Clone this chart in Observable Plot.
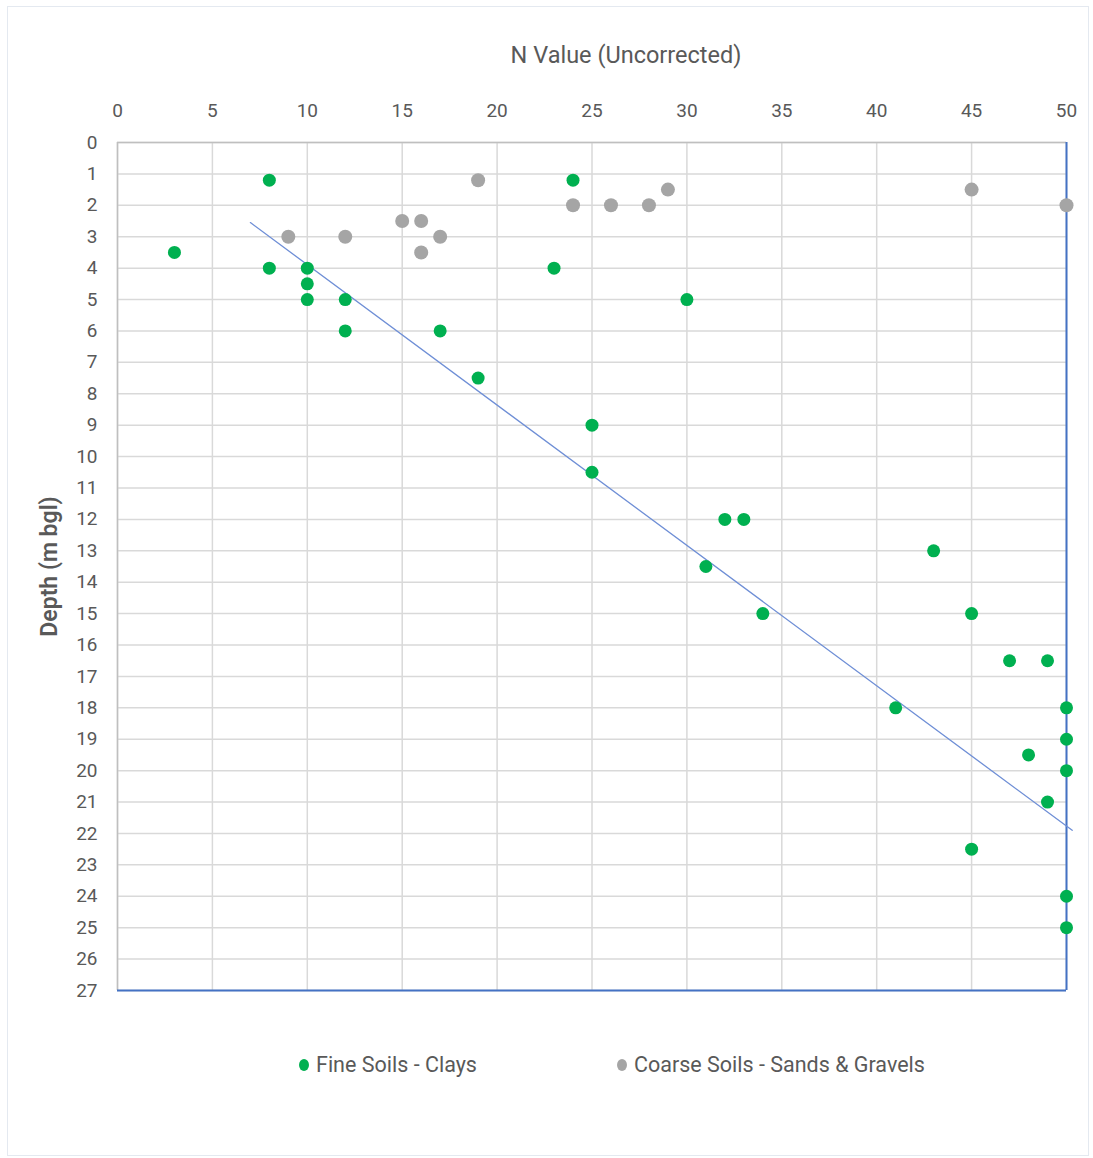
<!DOCTYPE html>
<html>
<head>
<meta charset="utf-8">
<script src="https://cdn.jsdelivr.net/npm/d3@7"></script>
<script src="https://cdn.jsdelivr.net/npm/@observablehq/plot@0.6"></script>
<style>
  html, body { margin: 0; padding: 0; background: #fff; }
  #wrap { position: relative; width: 1093px; height: 1158px; font-family: Roboto, "Noto Sans", sans-serif; }
  #frame { position: absolute; left: 7px; top: 6px; width: 1082px; height: 1150px; border: 1px solid #e4e9f0; box-sizing: border-box; }
  #chart { position: absolute; left: 0; top: 0; }
  #legend { position: absolute; top: 1052px; left: 0; width: 1093px; height: 26px; font-size: 21.5px; color: #595959; }
  .item { position: absolute; display: flex; align-items: center; gap: 7px; }
  .sw { width: 10px; height: 12px; border-radius: 50%; display: inline-block; }
</style>
</head>
<body>
<div id="wrap">
  <div id="frame"></div>
  <div id="chart"></div>
  <div id="legend"></div>
</div>
<script>
// SPT N values (uncorrected) against depth below ground level
const fineN     = [8, 24, 3, 8, 10, 10, 10, 12, 12, 17, 19, 23, 30, 25, 25, 32, 33, 43, 31, 34, 45, 47, 49, 41, 50, 50, 48, 50, 49, 45, 50, 50];
const fineDepth = [1.2, 1.2, 3.5, 4, 4, 4.5, 5, 5, 6, 6, 7.5, 4, 5, 9, 10.5, 12, 12, 13, 13.5, 15, 15, 16.5, 16.5, 18, 18, 19, 19.5, 20, 21, 22.5, 24, 25];

const coarseN     = [19, 29, 45, 24, 26, 28, 50, 15, 16, 9, 12, 17, 16];
const coarseDepth = [1.2, 1.5, 1.5, 2, 2, 2, 2, 2.5, 2.5, 3, 3, 3, 3.5];

// Linear trendline through the fine soils (end points)
const trendN     = [7, 50.3];
const trendDepth = [2.55, 21.9];

const xTicks = [0, 5, 10, 15, 20, 25, 30, 35, 40, 45, 50];
const yTicks = [0, 1, 2, 3, 4, 5, 6, 7, 8, 9, 10, 11, 12, 13, 14, 15, 16, 17, 18, 19, 20, 21, 22, 23, 24, 25, 26, 27];

const seriesNames = ["Fine Soils - Clays", "Coarse Soils - Sands & Gravels"];
const seriesColors = ["#00b050", "#a5a5a5"];

const fine = fineN.map((n, i) => ({n, depth: fineDepth[i]}));
const coarse = coarseN.map((n, i) => ({n, depth: coarseDepth[i]}));
const trend = trendN.map((n, i) => ({n, depth: trendDepth[i]}));

const chart = Plot.plot({
  width: 1093,
  height: 1010,
  marginLeft: 117,
  marginRight: 27,
  marginTop: 142,
  marginBottom: 20,
  style: { fontFamily: "Roboto, 'Noto Sans', sans-serif", color: "#595959", background: "transparent" },
  x: { domain: [0, 50] },
  y: { domain: [0, 27], reverse: true },
  marks: [
    Plot.gridX(xTicks, { stroke: "#d9d9d9", strokeOpacity: 1, strokeWidth: 1.5 }),
    Plot.gridY(yTicks, { stroke: "#d9d9d9", strokeOpacity: 1, strokeWidth: 1.5 }),
    Plot.ruleX([0], { stroke: "#bfbfbf", strokeWidth: 1.5 }),
    Plot.ruleY([0], { stroke: "#bfbfbf", strokeWidth: 1.5 }),
    Plot.ruleX([50], { stroke: "#4472c4", strokeWidth: 2 }),
    Plot.ruleY([27], { stroke: "#4472c4", strokeWidth: 2 }),
    Plot.axisX(xTicks, {
      anchor: "top", tickSize: 0, tickPadding: 26, fontSize: 19, fill: "#595959",
      label: "N Value (Uncorrected)", labelAnchor: "center", labelArrow: "none", labelOffset: 96
    }),
    Plot.axisY(yTicks, {
      anchor: "left", tickSize: 0, tickPadding: 20, fontSize: 19, fill: "#595959",
      label: "Depth (m bgl)", labelAnchor: "center", labelArrow: "none", labelOffset: 72
    }),
    Plot.line(trend, { x: "n", y: "depth", stroke: "#6f8fd6", strokeWidth: 1.3 }),
    Plot.dot(coarse, { x: "n", y: "depth", r: 7, fill: seriesColors[1], stroke: "none" }),
    Plot.dot(fine, { x: "n", y: "depth", r: 6.5, fill: seriesColors[0], stroke: "none" })
  ]
});
document.getElementById("chart").appendChild(chart);

// Axis titles: the x title sits a little right of centre; the y title is semi-bold
function nudge(sel, dx, dy) {
  chart.querySelectorAll(sel).forEach(g => {
    const t = g.getAttribute("transform") || "";
    g.setAttribute("transform", `translate(${dx},${dy}) ${t}`);
  });
}
chart.querySelectorAll("[aria-label='x-axis label'] text").forEach(t => t.setAttribute("font-size", 23.5));
chart.querySelectorAll("[aria-label='y-axis label'] text").forEach(t => {
  t.setAttribute("font-size", 23);
  t.setAttribute("font-weight", 600);
});
nudge("[aria-label='x-axis label']", 34, 0);
nudge("[aria-label='y-axis label']", -5, 0);

// Legend below the chart
const legend = document.getElementById("legend");
const legendX = [299, 617];
seriesNames.forEach((name, i) => {
  const item = document.createElement("div");
  item.className = "item";
  item.style.left = legendX[i] + "px";
  const sw = document.createElement("span");
  sw.className = "sw";
  sw.style.background = seriesColors[i];
  const tx = document.createElement("span");
  tx.textContent = name;
  item.appendChild(sw);
  item.appendChild(tx);
  legend.appendChild(item);
});
</script>
</body>
</html>
